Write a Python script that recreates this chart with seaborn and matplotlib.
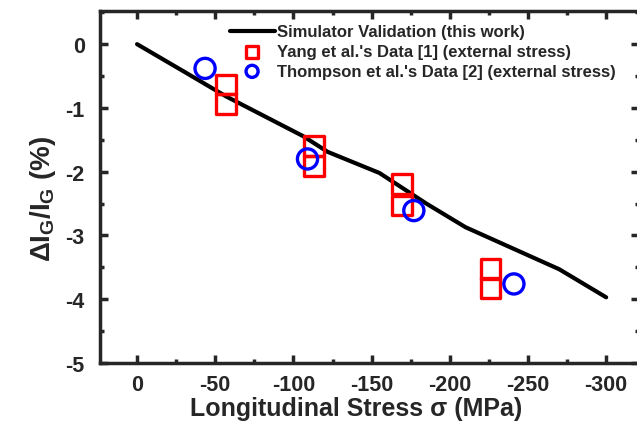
import matplotlib
matplotlib.use("Agg")
import matplotlib.pyplot as plt
import seaborn as sns
import numpy as np
from matplotlib.ticker import MultipleLocator

# ---- data ----
sim_stress = [0, -30, -57, -106, -122, -155, -185, -210, -270, -300]
sim_dig = [0, -0.43, -0.82, -1.44, -1.69, -2.02, -2.50, -2.87, -3.53, -3.97]

yang_stress = [-57, -57, -113, -113, -169.5, -169.5, -226, -226]
yang_dig = [-0.63, -0.94, -1.60, -1.91, -2.19, -2.53, -3.53, -3.82]

thom_stress = [-43.5, -109, -177, -241]
thom_dig = [-0.38, -1.80, -2.61, -3.76]

labels = ["Simulator Validation (this work)",
          "Yang et al.'s Data [1] (external stress)",
          "Thompson et al.'s Data [2] (external stress)"]

sns.set_style("ticks")
plt.rcParams['font.family'] = ['Liberation Sans', 'DejaVu Sans']
plt.rcParams['font.weight'] = 'bold'
plt.rcParams['axes.unicode_minus'] = False
plt.rcParams['mathtext.fontset'] = 'custom'
plt.rcParams['mathtext.rm'] = 'Liberation Sans:bold'
plt.rcParams['mathtext.it'] = 'Liberation Sans:bold'
plt.rcParams['mathtext.bf'] = 'Liberation Sans:bold'

fig = plt.figure(figsize=(6.37, 4.31), dpi=100)
ax = fig.add_axes([100/637, 1-364/431, 539/637, 352/431])

sns.lineplot(x=sim_stress, y=sim_dig, color='black', lw=3, sort=False,
             ax=ax, label=labels[0], zorder=2)
sns.scatterplot(x=yang_stress, y=yang_dig, marker='s', s=200, color='red',
                facecolor='none', edgecolor='red', linewidth=2.4, ax=ax,
                label=labels[1], zorder=3)
sns.scatterplot(x=thom_stress, y=thom_dig, marker='o', s=210, color='blue',
                facecolor='none', edgecolor='blue', linewidth=2.4, ax=ax,
                label=labels[2], zorder=4)

ax.set_xlim(23.7, -321)
ax.set_ylim(-5, 0.52)
ax.set_xticks([0, -50, -100, -150, -200, -250, -300])
ax.set_yticks([0, -1, -2, -3, -4, -5])
ax.xaxis.set_minor_locator(MultipleLocator(25))
ax.yaxis.set_minor_locator(MultipleLocator(0.5))
ax.tick_params(which='both', direction='in', top=True, right=True, width=2.5)
ax.tick_params(which='major', length=6, labelsize=15.5)
ax.tick_params(axis='x', which='major', pad=8)
ax.tick_params(axis='y', which='major', pad=11)
ax.tick_params(which='minor', length=3)
for lbl in ax.get_xticklabels() + ax.get_yticklabels():
    lbl.set_fontweight('bold')
for sp in ax.spines.values():
    sp.set_linewidth(2.5)

ax.set_xlabel("Longitudinal Stress σ (MPa)", fontsize=18, fontweight='bold')
ax.set_ylabel(r"$\Delta I_G/I_G$ (%)", fontsize=20, fontweight='bold')
ax.xaxis.set_label_coords(0.475, -0.095)
ax.yaxis.set_label_coords(-0.078, 0.47)

ax.legend(loc='upper right', bbox_to_anchor=(0.957, 0.962), frameon=False,
          prop={'weight': 'bold', 'size': 12}, borderpad=0, borderaxespad=0,
          handlelength=2.7, handletextpad=0.15, labelspacing=0.28, markerscale=0.6)

fig.savefig("out.png", dpi=100)
